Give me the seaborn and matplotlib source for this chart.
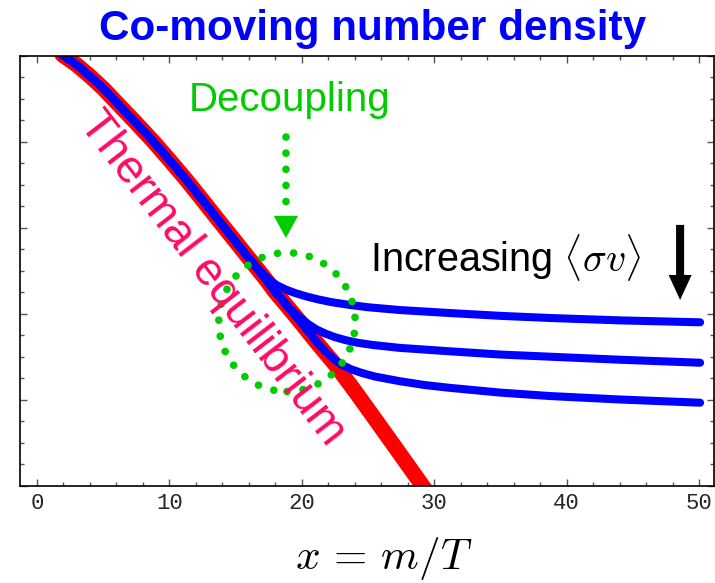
import numpy as np
import pandas as pd
import seaborn as sns
import matplotlib.pyplot as plt
import matplotlib.ticker as ticker
import matplotlib.patches as mpatches

# values (y in arbitrary log units)
eq_x = [1.9, 3.0, 4.0, 5.0, 6.2, 7.5, 8.8, 10.0, 11.2, 12.3, 13.3, 14.3, 15.3, 16.3,
        17.2, 18.0, 19.0, 19.9, 21.2, 22.5, 24.0, 25.4, 27.2, 29.0, 30.5]
eq_y = [20.05, 19.57, 19.05, 18.48, 17.7, 16.86, 16.0, 15.15, 14.28, 13.44, 12.66, 11.89,
        11.12, 10.35, 9.66, 9.0, 8.27, 7.6, 6.6, 5.65, 4.41, 3.21, 1.66, 0.1, -1.2]

shared_x = eq_x[:13]
shared_y = eq_y[:13]

top_x = shared_x + [16.3, 16.9, 17.5, 18.1, 18.8, 19.5, 20.3, 21.2, 22.3, 23.6, 25.0, 27.4,
                    31.2, 35.0, 38.75, 44.0, 50.08]
top_y = shared_y + [10.38, 9.95, 9.6, 9.33, 9.12, 8.96, 8.81, 8.67, 8.53, 8.41, 8.3, 8.17,
                    8.03, 7.9, 7.8, 7.69, 7.6]

mid_x = shared_x + [16.3, 17.2, 18.0, 18.7, 19.3, 19.9, 20.5, 21.1, 21.8, 22.5, 23.3, 24.2,
                    25.3, 27.4, 31.2, 35.0, 38.75, 44.0, 50.08]
mid_y = shared_y + [10.35, 9.66, 9.02, 8.53, 8.13, 7.8, 7.51, 7.27, 7.07, 6.91, 6.77, 6.65,
                    6.55, 6.41, 6.25, 6.1, 6.0, 5.86, 5.72]

low_x = shared_x + [16.3, 17.2, 18.0, 19.0, 19.9, 20.6, 21.2, 21.8, 22.4, 23.0, 23.7, 24.5,
                    25.5, 27.4, 29.3, 31.2, 35.0, 38.75, 44.0, 50.08]
low_y = shared_y + [10.35, 9.66, 9.0, 8.27, 7.62, 7.08, 6.63, 6.23, 5.9, 5.63, 5.42, 5.25,
                    5.08, 4.86, 4.68, 4.55, 4.33, 4.17, 4.01, 3.86]

x_ticks = [0, 10, 20, 30, 40, 50]

sns.set_style("ticks", {"xtick.direction": "in", "ytick.direction": "in"})
plt.rcParams["font.family"] = ["Liberation Sans", "DejaVu Sans"]
plt.rcParams["mathtext.fontset"] = "cm"

W, H = 715, 583
fig = plt.figure(figsize=(W / 100, H / 100), dpi=100)
ax = fig.add_axes([20 / W, 1 - 485.7 / H, (714 - 20) / W, 430 / H])


def fx(px):
    return px / W


def fy(py):
    return 1 - py / H


red = "#ff0000"
blue = "#0000ff"
green = "#00cc00"
pink = "#ff0a64"

sns.lineplot(x=eq_x, y=eq_y, ax=ax, color=red, lw=11.2, sort=False,
             solid_capstyle="round", solid_joinstyle="round")
for cx, cy in [(top_x, top_y), (mid_x, mid_y), (low_x, low_y)]:
    sns.lineplot(x=cx, y=cy, ax=ax, color=blue, lw=5.8, sort=False,
                 solid_capstyle="round", solid_joinstyle="round")

# dotted circle around decoupling
ell = mpatches.Ellipse((18.88, 7.61), 10.3, 6.46, fill=False, edgecolor=green,
                       lw=5.5, linestyle=(0, (0.01, 2.1)), capstyle="round", zorder=5)
ax.add_patch(ell)

# dotted arrow for "Decoupling"
ax.plot([18.8, 18.8], [16.2, 13.0], color=green, lw=5.5,
        linestyle=(0, (0.01, 2.1)), dash_capstyle="round", zorder=5)
ax.annotate("", xy=(18.8, 11.52), xytext=(18.8, 12.55),
            arrowprops=dict(arrowstyle="simple,head_length=1.6,head_width=1.75,tail_width=0.01",
                            mutation_scale=10, color=green, lw=0,
                            shrinkA=0, shrinkB=0), zorder=5)

# black arrow
ax.annotate("", xy=(48.57, 8.64), xytext=(48.57, 12.13),
            arrowprops=dict(arrowstyle="simple,head_length=1.8,head_width=1.66,tail_width=0.58",
                            mutation_scale=10, color="black", lw=0,
                            shrinkA=0, shrinkB=0))

ax.set_xlim(-1.284, 51.13)
ax.set_ylim(0, 20)
ax.set_xticks(x_ticks)
ax.xaxis.set_minor_locator(ticker.MultipleLocator(2))
ax.yaxis.set_major_locator(ticker.MultipleLocator(4))
ax.yaxis.set_minor_locator(ticker.MultipleLocator(1))
ax.set_yticklabels([])
ax.tick_params(which="both", direction="in", top=True, right=True,
               color="#555555", width=1)
ax.tick_params(which="major", length=5)
ax.tick_params(which="minor", length=3)
ax.tick_params(axis="x", pad=5, labelsize=16)
for lab in ax.get_xticklabels():
    lab.set_family(["Liberation Mono", "DejaVu Sans Mono"])
for sp in ax.spines.values():
    sp.set_color("black")
    sp.set_linewidth(1.2)
ax.set_xlabel("")
ax.set_ylabel("")

fig.text(fx(372.5), fy(40), "Co-moving number density", color=blue,
         fontsize=30.4, fontweight="bold", ha="center", va="baseline")
fig.text(fx(290), fy(111), "Decoupling", color=green, fontsize=29,
         ha="center", va="baseline")
fig.text(fx(212), fy(278), "Thermal equilibrium", color=pink, fontsize=33.5,
         rotation=-52.4, rotation_mode="anchor", ha="center", va="center")
fig.text(fx(370), fy(272), r"Increasing $\langle\sigma v\rangle$", color="black",
         fontsize=28.5, ha="left", va="baseline")
fig.text(fx(384), fy(569), r"$x\,=\,m/T$", color="black", fontsize=31,
         ha="center", va="baseline")

fig.savefig("out.png", dpi=100)
